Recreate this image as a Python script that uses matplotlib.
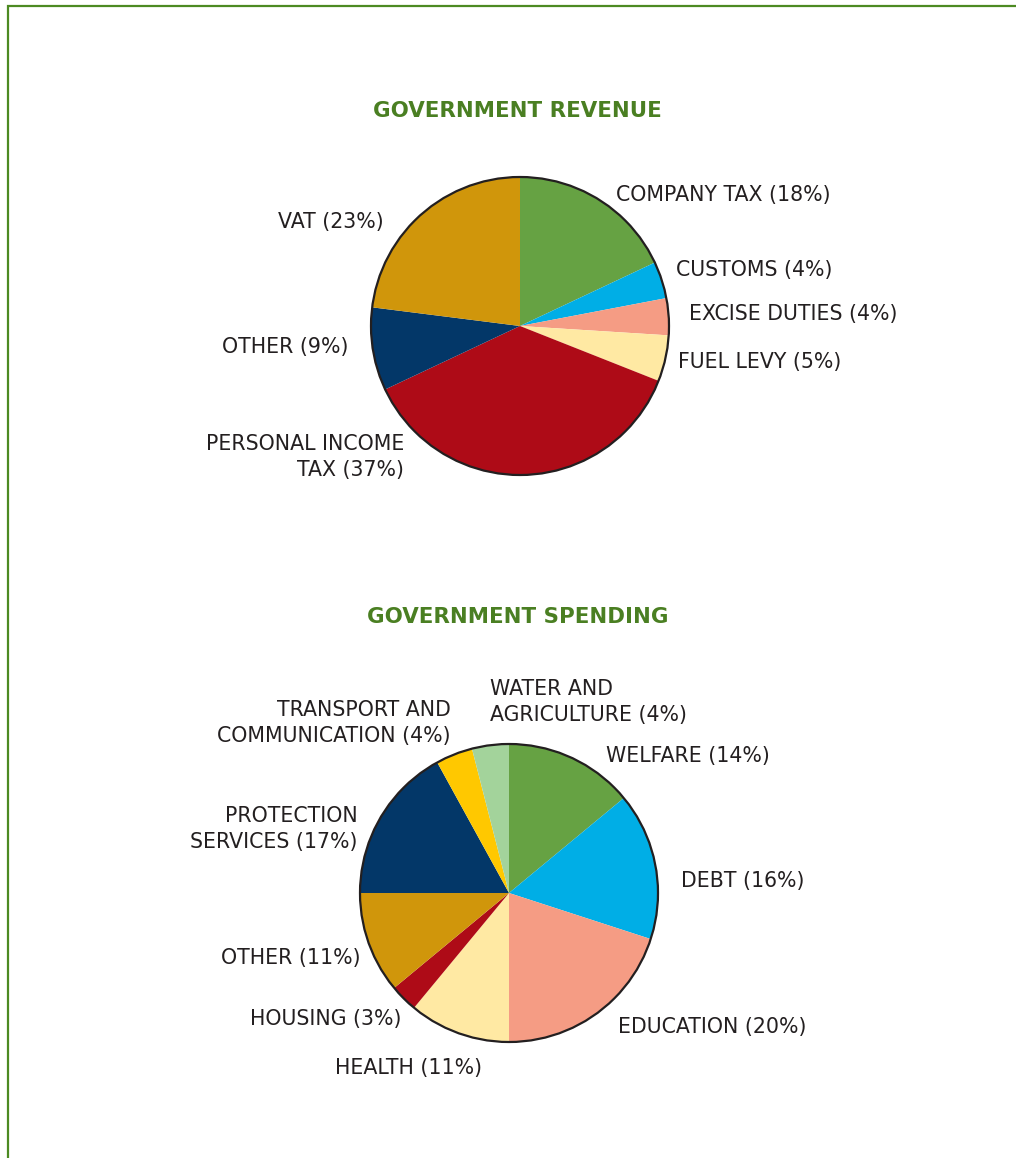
import matplotlib.pyplot as plt
from matplotlib.patches import Circle, Rectangle

W, H = 1016, 1158

# revenue
rev_labels = ["COMPANY TAX (18%)", "CUSTOMS (4%)", "EXCISE DUTIES (4%)", "FUEL LEVY (5%)",
              "PERSONAL INCOME\nTAX (37%)", "OTHER (9%)", "VAT (23%)"]
rev_values = [18, 4, 4, 5, 37, 9, 23]
rev_colors = ["#66a243", "#00aee6", "#f59c84", "#ffe9a3", "#ae0b17", "#033768", "#d0960b"]

# spending
spend_labels = ["WELFARE (14%)", "DEBT (16%)", "EDUCATION (20%)", "HEALTH (11%)", "HOUSING (3%)",
                "OTHER (11%)", "PROTECTION\nSERVICES (17%)", "TRANSPORT AND\nCOMMUNICATION (4%)",
                "WATER AND\nAGRICULTURE (4%)"]
spend_values = [14, 16, 20, 11, 3, 11, 17, 4, 4]
spend_colors = ["#66a243", "#00aee6", "#f59c84", "#ffe9a3", "#ae0b17", "#d0960b", "#033768",
                "#ffc800", "#a3d39b"]

green = "#4a7f22"
txt = "#231f20"
font = "DejaVu Sans"

fig = plt.figure(figsize=(W / 100, H / 100), dpi=100)
ax = fig.add_axes([0, 0, 1, 1])
ax.set_xlim(0, W)
ax.set_ylim(0, H)
ax.set_aspect("equal")
ax.axis("off")

def fy(y):
    # pixel row (from top) -> axes y
    return H - y

# frame
ax.add_patch(Rectangle((8, -10), W + 20, fy(6) + 10, fill=False, edgecolor="#4c8a22", lw=1.6))

def draw_pie(values, colors, cx, cy, r):
    ax.pie(values, colors=colors, startangle=90, counterclock=False,
           center=(cx, fy(cy)), radius=r, wedgeprops=dict(linewidth=0))
    ax.add_patch(Circle((cx, fy(cy)), r, fill=False, edgecolor="#231f20", lw=1.6))

draw_pie(rev_values, rev_colors, 520, 326, 149)
draw_pie(spend_values, spend_colors, 509, 893, 149)
ax.set_xlim(0, W)
ax.set_ylim(0, H)

ax.text(517, fy(111), "GOVERNMENT REVENUE", color=green, fontsize=15.4, fontweight="bold",
        family=font, ha="center", va="center")
ax.text(518, fy(617), "GOVERNMENT SPENDING", color=green, fontsize=15.4, fontweight="bold",
        family=font, ha="center", va="center")

# label anchor: (x, y, ha)
rev_pos = [(616, 195, "left"), (676, 270, "left"), (689, 314, "left"), (678, 362, "left"),
           (404, 457, "right"), (348, 347, "right"), (384, 222, "right")]
spend_pos = [(606, 756, "left"), (681, 881, "left"), (618, 1027, "left"), (335, 1068, "left"),
             (401, 1019, "right"), (361, 958, "right"), (358, 829, "right"), (451, 723, "right"),
             (490, 702, "left")]

for lab, (x, y, ha) in zip(rev_labels + spend_labels, rev_pos + spend_pos):
    ax.text(x, fy(y), lab, color=txt, fontsize=14.8, family=font, ha=ha, va="center",
            multialignment=ha, linespacing=1.33)

fig.savefig("out.png", dpi=100)
